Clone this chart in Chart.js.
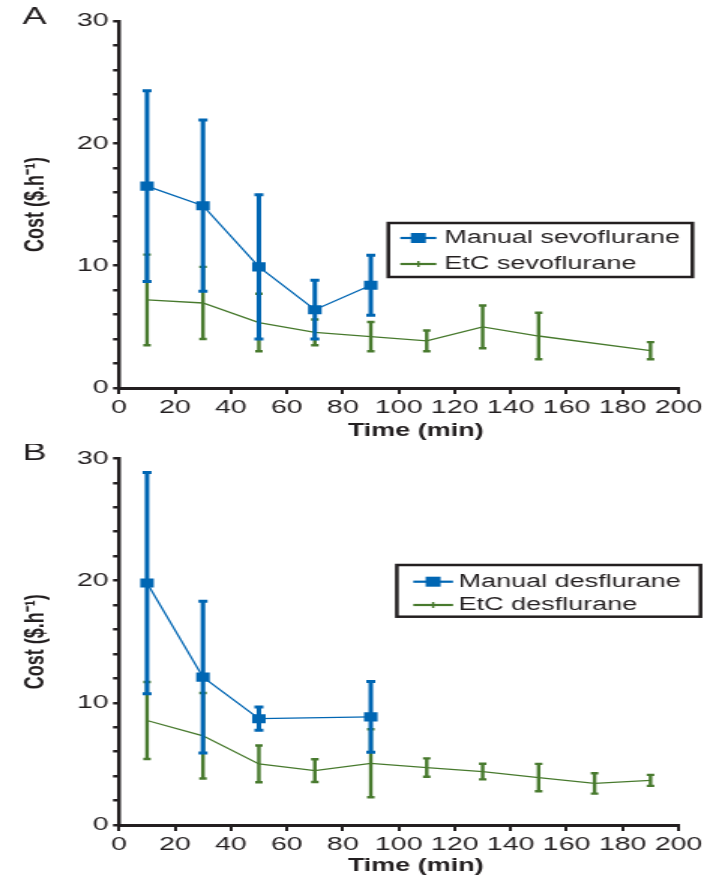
<!DOCTYPE html>
<html>
<head>
<meta charset="utf-8">
<script src="https://cdn.jsdelivr.net/npm/chart.js@4.4.1/dist/chart.umd.min.js"></script>
<style>
  body { margin: 0; background: #fff; }
  canvas { display: block; }
</style>
</head>
<body>
<canvas id="chartA" width="477" height="444" style="width:716px;height:444px"></canvas>
<canvas id="chartB" width="477" height="432" style="width:716px;height:432px"></canvas>
<script>
// A - sevoflurane
var sevoManualTime = [10, 30, 50, 70, 90];
var sevoManualCost = [16.5, 14.9, 9.9, 6.4, 8.4];
var sevoManualSd = [7.8, 7.0, 5.9, 2.4, 2.45];
var sevoEtcTime = [10, 30, 50, 70, 90, 110, 130, 150, 190];
var sevoEtcCost = [7.2, 6.95, 5.35, 4.55, 4.2, 3.85, 5.0, 4.25, 3.05];
var sevoEtcSd = [3.7, 2.95, 2.35, 1.05, 1.2, 0.85, 1.75, 1.9, 0.7];

// B - desflurane
var desManualTime = [10, 30, 50, 90];
var desManualCost = [19.8, 12.1, 8.7, 8.85];
var desManualSd = [9.05, 6.2, 0.95, 2.9];
var desEtcTime = [10, 30, 50, 70, 90, 110, 130, 150, 170, 190];
var desEtcCost = [8.55, 7.3, 5.0, 4.45, 5.05, 4.7, 4.37, 3.88, 3.4, 3.65];
var desEtcSd = [3.15, 3.5, 1.5, 0.93, 2.78, 0.75, 0.64, 1.12, 0.83, 0.45];

var timeTicks = [0, 20, 40, 60, 80, 100, 120, 140, 160, 180, 200];
var costTicks = [0, 2, 4, 6, 8, 10, 12, 14, 16, 18, 20, 22, 24, 26, 28, 30];
var costLabels = [0, 10, 20, 30];

var BLUE = '#0066b3';
var GREEN = '#487a2e';
var INK = '#231f20';
var FONT = '"Liberation Sans", Arial, Helvetica, sans-serif';

function points(xs, ys) {
    return xs.map(function (x, i) { return { x: x, y: ys[i] }; });
}

// mean +/- SD bars, drawn just under each dataset's own line
var errorBars = {
    id: 'errorBars',
    beforeDatasetDraw: function (chart, args) {
        var ds = chart.data.datasets[args.index];
        if (!ds.errors) return;
        var yScale = chart.scales.y;
        var ctx = chart.ctx;
        ctx.save();
        ctx.strokeStyle = ds.borderColor;
        ctx.lineWidth = ds.errorWidth;
        args.meta.data.forEach(function (pt, i) {
            var v = ds.data[i].y, e = ds.errors[i];
            var top = yScale.getPixelForValue(v + e);
            var bot = yScale.getPixelForValue(v - e);
            var hw = ds.capHalf;
            ctx.beginPath();
            ctx.moveTo(pt.x, top); ctx.lineTo(pt.x, bot);
            ctx.moveTo(pt.x - hw, top); ctx.lineTo(pt.x + hw, top);
            ctx.moveTo(pt.x - hw, bot); ctx.lineTo(pt.x + hw, bot);
            ctx.stroke();
        });
        ctx.restore();
    }
};

// framed legend sitting inside the plot
var boxLegend = {
    id: 'boxLegend',
    afterDraw: function (chart, args, o) {
        var ctx = chart.ctx;
        ctx.save();
        ctx.lineWidth = 2.5;
        ctx.strokeStyle = INK;
        ctx.strokeRect(o.left, o.top, o.right - o.left, o.bottom - o.top);
        ctx.font = '18px ' + FONT;
        ctx.textBaseline = 'middle';
        chart.data.datasets.forEach(function (ds, i) {
            var y = o.rows[i];
            var mx = (o.lineFrom + o.lineTo) / 2;
            ctx.strokeStyle = ds.borderColor;
            ctx.fillStyle = ds.borderColor;
            ctx.lineWidth = 2.2;
            ctx.beginPath();
            ctx.moveTo(o.lineFrom, y);
            ctx.lineTo(o.lineTo, y);
            ctx.stroke();
            if (ds.pointStyle === 'rect') {
                ctx.fillRect(mx - 5, y - 5, 10, 10);
            } else {
                ctx.lineWidth = 1.5;
                ctx.beginPath();
                ctx.moveTo(mx, y - 3); ctx.lineTo(mx, y + 3);
                ctx.stroke();
            }
            ctx.fillStyle = INK;
            ctx.fillText(ds.label, o.textX, y);
        });
        ctx.restore();
    }
};

// panel letter and the time axis caption
var panelText = {
    id: 'panelText',
    afterDraw: function (chart, args, o) {
        var ctx = chart.ctx;
        ctx.save();
        ctx.fillStyle = INK;
        ctx.textBaseline = 'middle';
        ctx.textAlign = 'left';
        ctx.font = '24px ' + FONT;
        ctx.fillText(o.letter, 15, o.letterY);
        ctx.textAlign = 'center';
        ctx.font = 'bold 18px ' + FONT;
        ctx.fillText('Time (min)', 277, o.titleY);
        ctx.restore();
    }
};

function makeChart(id, sets, layout) {
    var tickFont = { family: FONT, size: 19 };
    return new Chart(document.getElementById(id), {
        type: 'line',
        data: {
            datasets: [{
                label: sets.manualLabel,
                data: points(sets.manualTime, sets.manualCost),
                errors: sets.manualSd,
                borderColor: BLUE,
                backgroundColor: BLUE,
                borderWidth: 1.3,
                pointStyle: 'rect',
                pointRadius: 6.4,
                pointBorderWidth: 0,
                errorWidth: 3,
                capHalf: 3
            }, {
                label: sets.etcLabel,
                data: points(sets.etcTime, sets.etcCost),
                errors: sets.etcSd,
                borderColor: GREEN,
                backgroundColor: GREEN,
                borderWidth: 1.3,
                pointStyle: 'cross',
                pointRadius: 0,
                errorWidth: 2.4,
                capHalf: 2.5
            }]
        },
        options: {
            responsive: false,
            animation: false,
            devicePixelRatio: 1,
            layout: { padding: { top: layout.top, right: 25, bottom: 0, left: 0 } },
            plugins: {
                legend: { display: false },
                tooltip: { enabled: false },
                boxLegend: layout.legend,
                panelText: { letter: layout.letter, letterY: layout.letterY, titleY: layout.titleY }
            },
            scales: {
                x: {
                    type: 'linear',
                    min: 0,
                    max: 200,
                    afterFit: function (s) { s.height = layout.xHeight; },
                    afterBuildTicks: function (s) {
                        s.ticks = timeTicks.map(function (v) { return { value: v }; });
                    },
                    ticks: { autoSkip: false, maxRotation: 0, padding: 2, color: INK, font: tickFont },
                    grid: { drawOnChartArea: false, tickLength: 6, color: INK, lineWidth: 2 },
                    border: { color: INK, width: 3 }
                },
                y: {
                    type: 'linear',
                    min: 0,
                    max: 30,
                    afterFit: function (s) { s.width = 79.3; },
                    afterBuildTicks: function (s) {
                        s.ticks = costTicks.map(function (v) { return { value: v }; });
                    },
                    ticks: {
                        autoSkip: false,
                        padding: 3,
                        color: INK,
                        font: tickFont,
                        callback: function (v) { return costLabels.indexOf(v) >= 0 ? String(v) : ''; }
                    },
                    grid: { drawOnChartArea: false, tickLength: 4, color: INK, lineWidth: 2.5 },
                    border: { color: INK, width: 2.5 },
                    title: {
                        display: true,
                        text: 'Cost ($.h\u207B\u00B9)',
                        color: INK,
                        font: { family: FONT, size: 18, weight: 'bold' },
                        padding: { top: 13, bottom: 0 }
                    }
                }
            }
        },
        plugins: [errorBars, boxLegend, panelText]
    });
}

makeChart('chartA', {
    manualLabel: 'Manual sevoflurane',
    manualTime: sevoManualTime, manualCost: sevoManualCost, manualSd: sevoManualSd,
    etcLabel: 'EtC sevoflurane',
    etcTime: sevoEtcTime, etcCost: sevoEtcCost, etcSd: sevoEtcSd
}, {
    top: 21, xHeight: 56, letter: 'A', letterY: 17.5, titleY: 431,
    legend: { left: 258.7, top: 223, right: 461.3, bottom: 277, rows: [238, 264],
              lineFrom: 266.7, lineTo: 290.7, textX: 296 }
});

makeChart('chartB', {
    manualLabel: 'Manual desflurane',
    manualTime: desManualTime, manualCost: desManualCost, manualSd: desManualSd,
    etcLabel: 'EtC desflurane',
    etcTime: desEtcTime, etcCost: desEtcCost, etcSd: desEtcSd
}, {
    top: 11, xHeight: 51, letter: 'B', letterY: 9.5, titleY: 422,
    legend: { left: 264.4, top: 121, right: 466.7, bottom: 172.7, rows: [137.7, 161],
              lineFrom: 275.3, lineTo: 301.8, textX: 305.5 }
});
</script>
</body>
</html>
